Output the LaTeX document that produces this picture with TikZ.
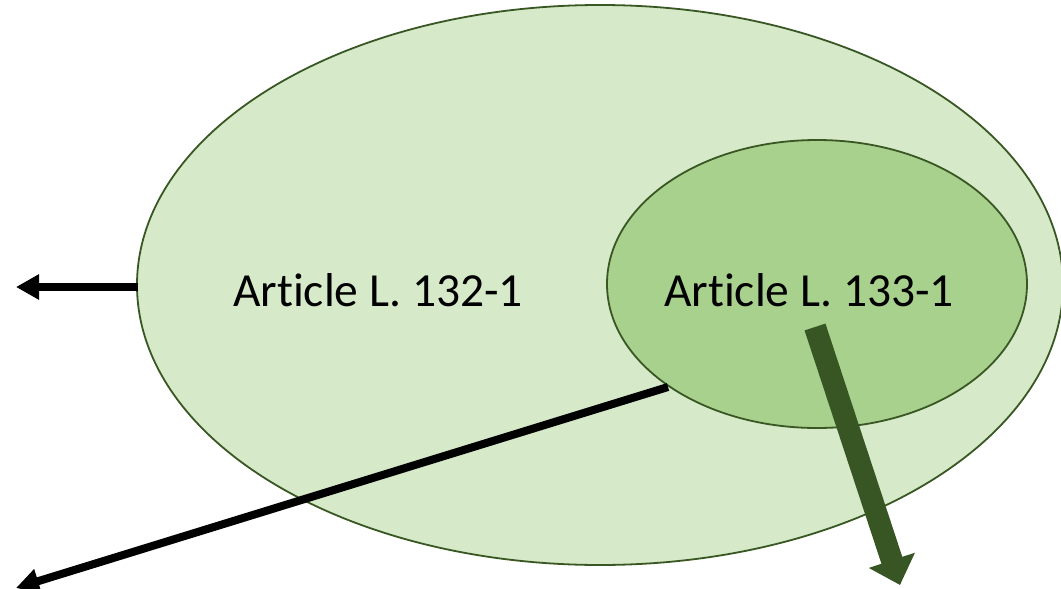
\documentclass[tikz,border=0pt]{standalone}
\usepackage{fontspec}
\setmainfont{Carlito}[Ligatures={NoCommon}]
\usetikzlibrary{shapes.geometric,arrows.meta}
\definecolor{biggreen}{HTML}{D6E9C9}
\definecolor{smallgreen}{HTML}{A9D18E}
\definecolor{edgegreen}{HTML}{385723}
\definecolor{arrowgreen}{HTML}{375623}
\tikzset{
  oval/.style={ellipse, draw=edgegreen, line width=1.8pt, inner sep=0pt},
  lbl/.style={font=\fontsize{47.5}{57}\selectfont, text=black, inner sep=0pt},
  blackarrow/.style={line width=8pt, -{Triangle[width=24pt,length=23pt]}},
  greenarrow/.style={draw=arrowgreen, line width=22pt, -{Triangle[width=47pt,length=26pt]}, color=arrowgreen}
}
\begin{document}
\begin{tikzpicture}[x=1pt,y=-1pt]
\useasboundingbox (0,0) rectangle (1061,589);
\node[oval, fill=biggreen, minimum width=926pt, minimum height=560pt] (big) at (600,285) {};
\node[oval, fill=smallgreen, minimum width=420pt, minimum height=288pt] (small) at (817,284) {};
\node[lbl] (t1) at (378,290) {Article L. 132-1};
\node[lbl] (t2) at (809,290) {Article L. 133-1};
\coordinate (leftend) at (16,287);
\coordinate (bigleft) at (138,287);
\coordinate (smallsw) at (668,387);
\coordinate (diagend) at (16,588);
\coordinate (gstart) at (815,327);
\coordinate (gend) at (900,585);
\draw[blackarrow] (bigleft) -- (leftend);
\draw[blackarrow] (smallsw) -- (diagend);
\draw[greenarrow] (gstart) -- (gend);
\end{tikzpicture}
\end{document}
